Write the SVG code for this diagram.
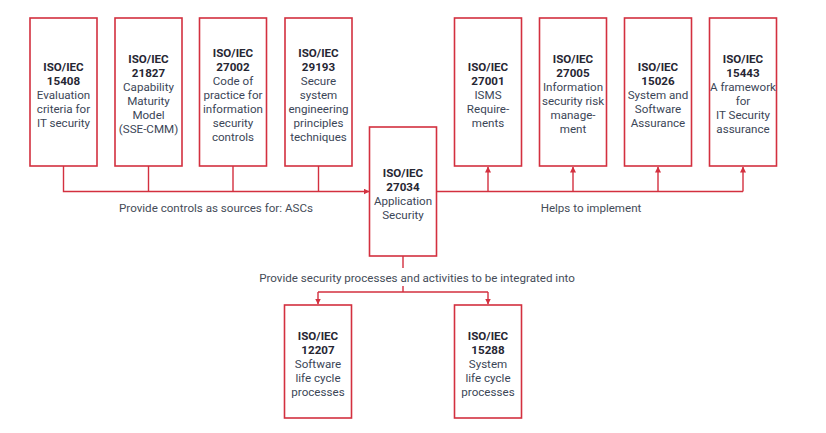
<svg xmlns="http://www.w3.org/2000/svg" width="826" height="433" viewBox="0 0 826 433">
<defs>
<style>
.box{fill:#fff;stroke:#d3303f;stroke-width:1.6}
.ln{fill:none;stroke:#d3303f;stroke-width:1.4}
text{font-family:Roboto,"Liberation Sans",sans-serif;font-size:11.6px;text-anchor:middle}
.t{font-weight:bold;fill:#262633}
.d{fill:#3b4657}
.lbl{fill:#454c58}
</style>
<marker id="ah" viewBox="0 0 6 6" refX="5.5" refY="3" markerWidth="6" markerHeight="6" markerUnits="userSpaceOnUse" orient="auto">
<path d="M0,0 L6,3 L0,6 z" fill="#d3303f"/>
</marker>
</defs>
<rect width="826" height="433" fill="#fff"/>
<g id="connectors">
<path class="ln" d="M63.5,166 V191.5 H369" marker-end="url(#ah)"/>
<path class="ln" d="M148.5,166 V191.5 M233,166 V191.5 M318.5,166 V191.5"/>
<path class="ln" d="M437,191.5 H743"/>
<path class="ln" d="M488,191.5 V167" marker-end="url(#ah)"/>
<path class="ln" d="M573,191.5 V167" marker-end="url(#ah)"/>
<path class="ln" d="M658,191.5 V167" marker-end="url(#ah)"/>
<path class="ln" d="M743,191.5 V167" marker-end="url(#ah)"/>
<path class="ln" d="M403,256 V268 M403,286 V292 M318,292 H488"/>
<path class="ln" d="M318,292 V304" marker-end="url(#ah)"/>
<path class="ln" d="M488,292 V304" marker-end="url(#ah)"/>
<text class="lbl" x="216" y="212">Provide controls as sources for: ASCs</text>
<text class="lbl" x="591" y="212">Helps to implement</text>
<text class="lbl" x="417" y="282">Provide security processes and activities to be integrated into</text>
</g>
<g id="n15408">
<rect class="box" x="30" y="18" width="67" height="148"/>
<text class="t" x="63.5" y="71">ISO/IEC</text>
<text class="t" x="63.5" y="85">15408</text>
<text class="d" x="63.5" y="99">Evaluation</text>
<text class="d" x="63.5" y="113">criteria for</text>
<text class="d" x="63.5" y="127">IT security</text>
</g>
<g id="n21827">
<rect class="box" x="115" y="18" width="67" height="148"/>
<text class="t" x="148.5" y="63">ISO/IEC</text>
<text class="t" x="148.5" y="77">21827</text>
<text class="d" x="148.5" y="91">Capability</text>
<text class="d" x="148.5" y="105">Maturity</text>
<text class="d" x="148.5" y="119">Model</text>
<text class="d" x="148.5" y="133">(SSE-CMM)</text>
</g>
<g id="n27002">
<rect class="box" x="199.5" y="18" width="67" height="148"/>
<text class="t" x="233" y="57">ISO/IEC</text>
<text class="t" x="233" y="71">27002</text>
<text class="d" x="233" y="85">Code of</text>
<text class="d" x="233" y="99">practice for</text>
<text class="d" x="233" y="113">information</text>
<text class="d" x="233" y="127">security</text>
<text class="d" x="233" y="141">controls</text>
</g>
<g id="n29193">
<rect class="box" x="285" y="18" width="67" height="148"/>
<text class="t" x="318.5" y="57">ISO/IEC</text>
<text class="t" x="318.5" y="71">29193</text>
<text class="d" x="318.5" y="85">Secure</text>
<text class="d" x="318.5" y="99">system</text>
<text class="d" x="318.5" y="113">engineering</text>
<text class="d" x="318.5" y="127">principles</text>
<text class="d" x="318.5" y="141">techniques</text>
</g>
<g id="n27034">
<rect class="box" x="369.5" y="127" width="67" height="129"/>
<text class="t" x="403" y="177">ISO/IEC</text>
<text class="t" x="403" y="191">27034</text>
<text class="d" x="403" y="205">Application</text>
<text class="d" x="403" y="219">Security</text>
</g>
<g id="n27001">
<rect class="box" x="454.5" y="18" width="67" height="148"/>
<text class="t" x="488" y="71">ISO/IEC</text>
<text class="t" x="488" y="85">27001</text>
<text class="d" x="488" y="99">ISMS</text>
<text class="d" x="488" y="113">Require-</text>
<text class="d" x="488" y="127">ments</text>
</g>
<g id="n27005">
<rect class="box" x="539.5" y="18" width="67" height="148"/>
<text class="t" x="573" y="63">ISO/IEC</text>
<text class="t" x="573" y="77">27005</text>
<text class="d" x="573" y="91">Information</text>
<text class="d" x="573" y="105">security risk</text>
<text class="d" x="573" y="119">manage-</text>
<text class="d" x="573" y="133">ment</text>
</g>
<g id="n15026">
<rect class="box" x="624.5" y="18" width="67" height="148"/>
<text class="t" x="658" y="71">ISO/IEC</text>
<text class="t" x="658" y="85">15026</text>
<text class="d" x="658" y="99">System and</text>
<text class="d" x="658" y="113">Software</text>
<text class="d" x="658" y="127">Assurance</text>
</g>
<g id="n15443">
<rect class="box" x="709.5" y="18" width="67" height="148"/>
<text class="t" x="743" y="63">ISO/IEC</text>
<text class="t" x="743" y="77">15443</text>
<text class="d" x="743" y="91">A framework</text>
<text class="d" x="743" y="105">for</text>
<text class="d" x="743" y="119">IT Security</text>
<text class="d" x="743" y="133">assurance</text>
</g>
<g id="n12207">
<rect class="box" x="284.5" y="305" width="67" height="113"/>
<text class="t" x="318" y="340">ISO/IEC</text>
<text class="t" x="318" y="354">12207</text>
<text class="d" x="318" y="368">Software</text>
<text class="d" x="318" y="382">life cycle</text>
<text class="d" x="318" y="396">processes</text>
</g>
<g id="n15288">
<rect class="box" x="454.5" y="305" width="67" height="113"/>
<text class="t" x="488" y="340">ISO/IEC</text>
<text class="t" x="488" y="354">15288</text>
<text class="d" x="488" y="368">System</text>
<text class="d" x="488" y="382">life cycle</text>
<text class="d" x="488" y="396">processes</text>
</g>
</svg>
